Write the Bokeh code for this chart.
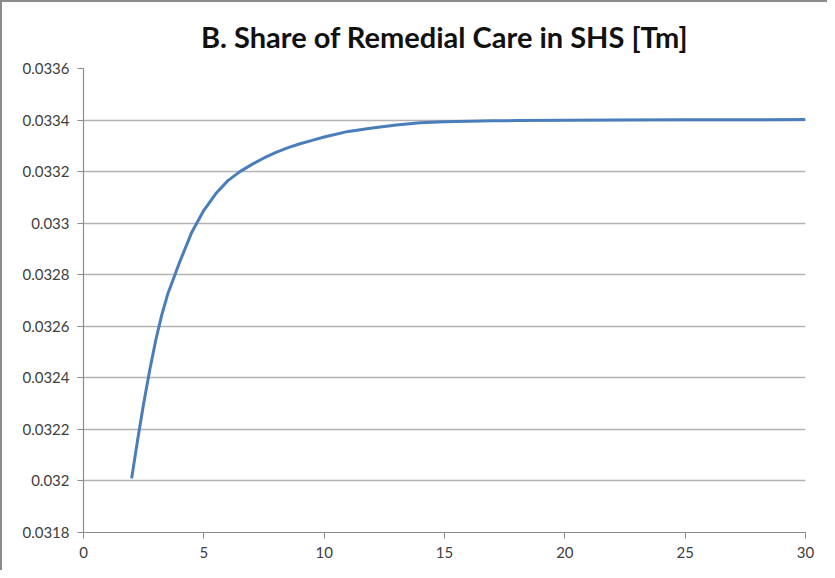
from bokeh.plotting import figure
from bokeh.models import ColumnDataSource, FixedTicker, NumeralTickFormatter, Range1d
from bokeh.embed import file_html
from bokeh.resources import INLINE

title_text = "B. Share of Remedial Care in SHS [Tm]"

years = [2, 2.25, 2.5, 2.75, 3, 3.25, 3.5, 3.8, 4, 4.5, 5, 5.5, 6, 6.5, 7, 7.5, 8,
         8.5, 9, 9.5, 10, 11, 12, 13, 14, 15, 16, 17, 18, 20, 22, 25, 30]
share = [0.03201, 0.03216, 0.032300, 0.032429, 0.032545, 0.032643, 0.032725,
         0.03280, 0.03285, 0.032965, 0.03305, 0.033115, 0.033165, 0.033200,
         0.033228, 0.033253, 0.033275, 0.033293, 0.033308, 0.033321, 0.033334,
         0.033356, 0.033369, 0.033381, 0.03339, 0.033393, 0.033395, 0.033397,
         0.033398, 0.033399, 0.0334, 0.033401, 0.033402]

x_ticks = [0, 5, 10, 15, 20, 25, 30]
y_ticks = [0.0318, 0.0320, 0.0322, 0.0324, 0.0326, 0.0328, 0.0330, 0.0332, 0.0334, 0.0336]

src = ColumnDataSource(dict(x=years, y=share))

p = figure(width=827, height=570, output_backend="svg", toolbar_location=None,
           x_range=Range1d(0, 30), y_range=Range1d(0.0318, 0.0336),
           min_border_left=81, min_border_right=24, min_border_top=66,
           min_border_bottom=40)
p.title.text = title_text
p.title.text_font = "Lato"
p.title.text_font_size = "29px"
p.title.text_font_style = "bold"
p.title.text_color = "#111111"
p.title.align = "center"
p.title.standoff = 29

p.line("x", "y", source=src, line_color="#4a7ebb", line_width=3,
       line_join="round")

p.outline_line_color = None
p.background_fill_color = "white"
p.border_fill_color = "white"
p.styles = {"border-left": "2px solid #8c8c8c", "border-top": "2px solid #8c8c8c"}

p.xgrid.grid_line_color = None
p.ygrid.grid_line_color = "#b3b3b3"
p.ygrid.grid_line_width = 1.3
p.ygrid.ticker = FixedTicker(ticks=y_ticks)

p.xaxis.ticker = FixedTicker(ticks=x_ticks)
p.yaxis.ticker = FixedTicker(ticks=y_ticks)
p.yaxis.formatter = NumeralTickFormatter(format="0.[0000]")

for ax in (p.xaxis, p.yaxis):
    ax.axis_line_color = "#8c8c8c"
    ax.axis_line_width = 1.2
    ax.major_tick_line_color = "#8c8c8c"
    ax.major_tick_in = 0
    ax.major_tick_out = 6
    ax.minor_tick_line_color = None
    ax.major_label_text_font = "Lato"
    ax.major_label_text_font_size = "15px"
    ax.major_label_text_color = "#404040"
    ax.major_label_standoff = 8

open("out.html", "w").write(file_html(p, INLINE))
